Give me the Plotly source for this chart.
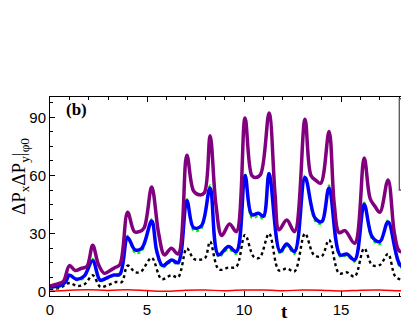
import plotly.graph_objects as go

# curve readings (t, value)
t_purple = [0.0, 0.4, 0.7, 1.0, 1.3, 1.6, 1.9, 2.2, 2.5, 2.8, 3.1, 3.35, 3.6, 4.0, 4.35, 4.6, 4.85,
            5.24, 5.6, 5.9, 6.25, 6.6, 7.05, 7.4, 7.7, 7.95, 8.25, 8.55, 8.85, 9.25, 9.6, 10.05,
            10.4, 10.6, 10.85, 11.29, 11.6, 11.8, 12.2, 12.6, 13.14, 13.45, 13.7, 13.95, 14.38,
            14.65, 14.9, 15.2, 15.7, 16.19, 16.5, 16.75, 17.0, 17.42, 17.75, 18.0, 18.3, 18.6]
v_purple = [3.0, 4.0, 5.5, 13.5, 11, 12, 13, 24, 14, 9.5, 11, 12.5, 14, 41, 31, 31, 33,
            54, 30, 19, 22.5, 19.5, 70.5, 52, 50, 51, 80.5, 45, 29, 35, 31, 89.6,
            60, 59, 60.5, 92.2, 50, 32, 37, 31, 89, 60, 57.5, 56, 82.7,
            45, 30.5, 31.5, 25, 69, 48, 44, 41, 57.7, 30, 21, 20.5, 18.5]

t_blue = [0.0, 0.5, 0.8, 1.0, 1.35, 1.75, 2.2, 2.58, 2.9, 3.26, 3.6, 4.0, 4.38, 4.73, 5.24, 5.5,
          5.8, 6.27, 6.6, 7.05, 7.4, 7.8, 8.25, 8.68, 9.2, 9.6, 10.05, 10.4, 10.75, 11.0, 11.29,
          11.86, 12.2, 12.6, 13.14, 13.66, 14.0, 14.38, 14.95, 15.3, 15.7, 16.19, 16.6, 17.0,
          17.42, 18.04, 18.5]
v_blue = [2.5, 3, 5, 8.5, 6.5, 8, 16, 6, 7, 8.6, 9, 28, 21.6, 22.4, 36.5, 21,
          13.5, 16.4, 15, 47, 33, 34, 53.5, 19, 23.3, 20.7, 60, 39.7, 40.5, 39, 61,
          20.7, 24.7, 20.7, 59, 38, 36.2, 53.5, 19, 19.5, 16.4, 45, 28.4, 25.9,
          36, 13.8, 11.5]
v_green = [2.0, 2.5, 5, 9.5, 6, 7, 17, 5.5, 6.5, 8, 8.5, 29, 20, 21, 37.5, 20,
           12.5, 15.5, 14, 48, 31.5, 32.5, 55, 18, 22, 19.5, 61, 38, 39, 37.5, 62,
           19.5, 23.5, 19.5, 60, 36.5, 35, 55, 18, 18.5, 15.5, 46, 27, 24.5,
           37, 12.5, 10.5]

t_black = [0.0, 0.5, 1.0, 1.4, 1.8, 2.2, 2.6, 3.0, 3.4, 3.7, 4.0, 4.4, 4.7, 5.24, 5.75, 6.25,
           6.6, 7.05, 7.4, 7.7, 8.0, 8.25, 8.7, 9.2, 9.6, 10.05, 10.5, 10.8, 11.29, 11.8, 12.2,
           12.6, 13.14, 13.6, 14.0, 14.38, 14.9, 15.3, 15.7, 16.19, 16.6, 17.0, 17.42, 17.8,
           18.2, 18.6]
v_black = [1.5, 2, 4.5, 3, 4, 8.5, 2.5, 3.5, 5, 5, 13.5, 10, 10.5, 17.5, 6.5, 8.5,
           7.5, 22.4, 17, 16.5, 17.5, 25.9, 11.5, 12.5, 12.9, 29.3, 18, 17.5, 30, 11, 12,
           10.5, 30, 19, 18.3, 26.7, 9.5, 10, 7.8, 22.4, 13.8, 13.8, 19.5, 7.8,
           6, 5.5]

t_red = [0, 1, 2, 3, 4, 5, 6, 7, 8, 9, 10, 11, 12, 13, 14, 15, 16, 17, 18, 18.6]
v_red = [0.3, 0.8, 1.0, 0.7, 1.0, 0.6, 0.2, 0.8, 0.9, 0.5, 0.9, 0.9, 0.5, 0.9, 0.8, 0.4, 0.8, 0.9, 0.5, 0.4]

fig = go.Figure()
fig.add_trace(go.Scatter(x=t_red, y=v_red, mode='lines', line=dict(color='#ff0000', width=1.5, shape='spline')))
fig.add_trace(go.Scatter(x=t_black, y=v_black, mode='lines',
                         line=dict(color='black', width=2.4, dash='dot', shape='spline')))
fig.add_trace(go.Scatter(x=t_blue, y=v_green, mode='lines',
                         line=dict(color='#00ee00', width=2, dash='dot', shape='spline')))
fig.add_trace(go.Scatter(x=t_blue, y=v_blue, mode='lines', line=dict(color='#0000ff', width=3.5, shape='spline')))
fig.add_trace(go.Scatter(x=t_purple, y=v_purple, mode='lines',
                         line=dict(color='#800080', width=3.5, shape='spline')))

fig.add_annotation(text='<b>(b)</b>', xref='paper', yref='paper', x=0.039, y=0.935,
                   xanchor='left', yanchor='middle', showarrow=False,
                   font=dict(family='Liberation Serif', size=17, color='black'))
fig.add_annotation(text='<b>t</b>', xref='x', yref='paper', x=12.1, y=-0.08,
                   xanchor='center', yanchor='middle', showarrow=False,
                   font=dict(family='Liberation Serif', size=19, color='black'))
fig.add_annotation(text='ΔP<sub>x</sub>ΔP<sub>y</sub>|<sub>φ0</sub>', xref='paper', yref='paper',
                   x=-0.085, y=0.6, textangle=-90, xanchor='center', yanchor='middle', showarrow=False,
                   font=dict(family='Liberation Serif', size=19, color='black'))

# legend frame, cut off at the right edge of the picture
fig.add_shape(type='rect', xref='x', yref='y', x0=18.0, x1=19.5, y0=52.5, y1=99.6,
              layer='above', line=dict(color='#555555', width=1.3))

fig.update_xaxes(range=[0, 18.5], showline=True, linecolor='black', linewidth=1, mirror='ticks',
                 ticks='inside', ticklen=5, tickcolor='black', dtick=5, tick0=0,
                 minor=dict(dtick=1, ticklen=3, ticks='inside', tickcolor='black'),
                 showgrid=False, zeroline=False, automargin=False,
                 tickfont=dict(family='Liberation Sans', size=15, color='black'))
fig.update_yaxes(range=[-2.2, 100.5], showline=True, linecolor='black', linewidth=1,
                 ticks='inside', ticklen=5, tickcolor='black', dtick=30, tick0=0,
                 minor=dict(dtick=7.5, ticklen=3, ticks='inside', tickcolor='black'),
                 showgrid=False, zeroline=False, automargin=False,
                 tickfont=dict(family='Liberation Sans', size=15, color='black'))

# page body keeps an 8px margin, so the figure is sized to fit inside it
fig.update_layout(width=401, height=319, margin=dict(l=42, r=0, t=89, b=31),
                  plot_bgcolor='white', paper_bgcolor='white', showlegend=False)

fig.write_html("out.html")
